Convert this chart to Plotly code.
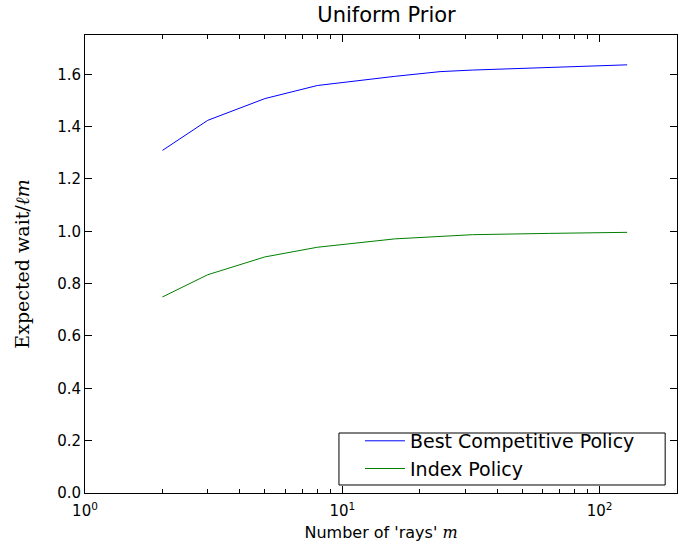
import plotly.graph_objects as go

m_vals = [2, 3, 5, 8, 16, 24, 32, 64, 128]
best_competitive = [1.309, 1.424, 1.507, 1.557, 1.592, 1.610, 1.616, 1.625, 1.636]
index_policy = [0.749, 0.834, 0.902, 0.939, 0.971, 0.982, 0.987, 0.992, 0.996]

x_tickvals = [1, 10, 100]
x_ticktext = ["10<sup>0</sup>", "10<sup>1</sup>", "10<sup>2</sup>"]
x_minor = [2, 3, 4, 5, 6, 7, 8, 9, 20, 30, 40, 50, 60, 70, 80, 90, 200]
y_tickvals = [0.0, 0.2, 0.4, 0.6, 0.8, 1.0, 1.2, 1.4, 1.6]
y_ticktext = ["%.1f" % v for v in y_tickvals]

fig = go.Figure()
fig.add_trace(go.Scatter(x=m_vals, y=best_competitive, mode="lines",
                         name="Best Competitive Policy",
                         line=dict(color="#0000ff", width=1)))
fig.add_trace(go.Scatter(x=m_vals, y=index_policy, mode="lines",
                         name="Index Policy",
                         line=dict(color="#008000", width=1)))
# invisible trace to carry the minor-tick overlay axis
fig.add_trace(go.Scatter(x=m_vals, y=index_policy, mode="lines", xaxis="x2",
                         line=dict(width=0, color="rgba(0,0,0,0)"),
                         showlegend=False, hoverinfo="skip"))

font_family = "DejaVu Sans"
fig.update_layout(
    width=689, height=546,
    margin=dict(l=85, r=12, t=35, b=53, autoexpand=False),
    paper_bgcolor="white", plot_bgcolor="white",
    font=dict(family=font_family, size=14, color="black"),
    title=dict(text="Uniform Prior", x=0.561, xref="container", xanchor="center",
               y=0.9725, yref="container", yanchor="middle",
               font=dict(size=21, family=font_family, color="black")),
    showlegend=True,
    legend=dict(x=0.4645, y=0.011, xanchor="left", yanchor="bottom",
                borderwidth=0, bgcolor="rgba(0,0,0,0)",
                font=dict(size=19, family=font_family, color="black"),
                tracegroupgap=0, itemwidth=40,
                ),
    shapes=[dict(type="rect", xref="paper", yref="paper",
                 x0=0.429, x1=0.98, y0=0.0175, y1=0.131,
                 line=dict(color="black", width=1), fillcolor="white",
                 layer="above")],
    xaxis2=dict(
        type="log", range=[0, 2.30103], overlaying="x", side="bottom",
        tickmode="array", tickvals=x_minor, showticklabels=False,
        ticks="inside", ticklen=4, tickcolor="black", tickwidth=1,
        showline=True, linecolor="black", linewidth=1,
        mirror="ticks", showgrid=False, zeroline=False,
        automargin=False,
    ),
    xaxis=dict(
        type="log", range=[0, 2.30103],
        tickmode="array", tickvals=x_tickvals, ticktext=x_ticktext,
        ticks="inside", ticklen=7, tickcolor="black", tickwidth=1,
        showline=True, linecolor="black", linewidth=1, mirror="ticks",
        showgrid=False, zeroline=False, automargin=False,
        ticklabelstandoff=4,
        tickfont=dict(size=15, family=font_family),
        title=dict(text="Number of 'rays' <i><span style='font-family:DejaVu Serif'>m</span></i>",
                   font=dict(size=16, family=font_family), standoff=7),
    ),
    yaxis=dict(
        range=[0, 1.75],
        tickmode="array", tickvals=y_tickvals, ticktext=y_ticktext,
        ticks="inside", ticklen=7, tickcolor="black", tickwidth=1,
        showline=True, linecolor="black", linewidth=1, mirror="ticks",
        showgrid=False, zeroline=False, automargin=False,
        tickfont=dict(size=15, family=font_family),
        title=dict(text="Expected wait/<i>ℓm</i>",
                   font=dict(size=19, family="DejaVu Serif"), standoff=22),
    ),
)

fig.write_html("out.html",
               config={"displayModeBar": False},
               post_script="document.body.style.margin='0';")
